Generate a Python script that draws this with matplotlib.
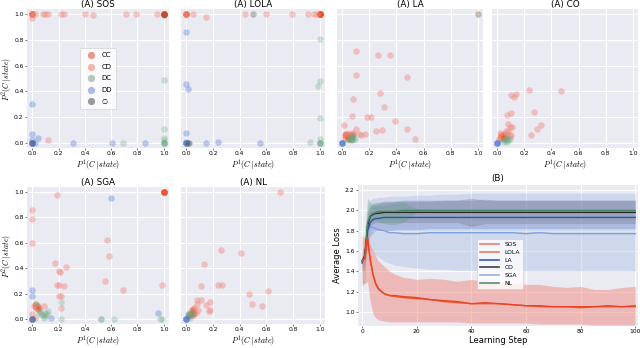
import matplotlib
matplotlib.use("Agg")
import matplotlib.pyplot as plt
from matplotlib.lines import Line2D
import numpy as np

W, H = 640, 348
BG = "#eaeaf2"

# ---------------- scatter data (P1, P2) per algorithm and state ----------------
sos_cc = [(1, 1)] * 8 + [(0, 1)] * 4
sos_cd = [(0.02, 1), (0.08, 1), (0.1, 1), (0.12, 1), (0.22, 1), (0.24, 1), (0.4, 1), (0.46, 0.99),
          (0.71, 1), (0.79, 1), (0.95, 1), (0, 0.97), (0.12, 0.02), (0, 1)]
sos_dc = [(1, 0.49), (1, 0.11), (1, 0.04), (1, 0.02), (1, 0), (1, 0), (1, 0), (1, 0), (0.69, 0)]
sos_dd = [(0, 0.3), (0, 0.07), (0.04, 0.04), (0, 0), (0, 0), (0, 0), (0, 0), (0.02, 0), (0, 0.02),
          (0.31, 0), (0.61, 0), (0.86, 0)]
sos_no = [(1, 0.99), (0, 0)]

lola_cc = [(1, 1)] * 8 + [(0, 1)] * 4
lola_cd = [(0, 1), (0.05, 1), (0.15, 0.98), (0.44, 1), (0.6, 1), (0.79, 1), (0.91, 1), (0.96, 1), (0.98, 1)]
lola_dc = [(1, 0.81), (1, 0.48), (0.99, 0.44), (1, 0.19), (1, 0.03), (0.93, 0.01), (1, 0), (1, 0),
           (1, 0), (1, 0)]
lola_dd = [(0, 0.86), (0, 0.46), (0.01, 0.42), (0, 0.08), (0, 0.01), (0, 0), (0, 0), (0, 0), (0, 0),
           (0.15, 0), (0.24, 0.01), (0.55, 0)]
lola_no = [(0.5, 1), (0.02, 0), (0.01, 0)]

la_cc = [(0.03, 0.06), (0.05, 0.07), (0.06, 0.05), (0.02, 0.04), (0.04, 0.03), (0.07, 0.06),
         (0.08, 0.07), (0.05, 0.04), (0.03, 0.07), (0.06, 0.03), (0.02, 0.06), (0.04, 0.05)]
la_cd = [(1, 1), (0.1, 0.71), (0.26, 0.68), (0.35, 0.68), (0.1, 0.53), (0.48, 0.51), (0.28, 0.39),
         (0.08, 0.34), (0.31, 0.28), (0.07, 0.21), (0.18, 0.2), (0.21, 0.2), (0.39, 0.17),
         (0.48, 0.11), (0.1, 0.11), (0.29, 0.1), (0.25, 0.09), (0.17, 0.07), (0.14, 0.06),
         (0.54, 0.03), (0.01, 0.14), (0.02, 0.07), (0.05, 0.07), (0.12, 0.07), (0.08, 0.08)]
la_dc = [(1, 1), (0.07, 0.04), (0.08, 0.03), (0.06, 0.02), (0.07, 0.05), (0.05, 0.03), (0.08, 0.05),
         (0.06, 0.04), (0.09, 0.03), (0.07, 0.02), (0.04, 0.02)]
la_dd = [(0, 0)] * 4
la_no = []

co_cc = [(0.04, 0.06), (0.03, 0.05), (0.05, 0.07), (0.04, 0.04), (0.06, 0.05), (0.02, 0.04),
         (0.05, 0.03), (0.03, 0.06)]
co_cd = [(0.23, 0.41), (0.47, 0.4), (0.1, 0.37), (0.12, 0.36), (0.14, 0.38), (0.07, 0.22),
         (0.1, 0.23), (0.27, 0.24), (0.08, 0.15), (0.09, 0.12), (0.11, 0.12), (0.32, 0.14),
         (0.29, 0.11), (0.25, 0.06), (0.08, 0.09), (0.1, 0.06), (0.02, 0.08), (0.06, 0.09),
         (0.07, 0.07), (0.09, 0.05), (0.01, 0.03)]
co_dc = [(0.06, 0.02), (0.07, 0.03), (0.05, 0.01), (0.08, 0.02), (0.06, 0.04), (0.09, 0.03),
         (0.07, 0.01), (0.04, 0.02)]
co_dd = [(0, 0)] * 4
co_no = []

sga_cc = [(1, 1)] * 6 + [(0.03, 0.09), (0.04, 0.1), (0.02, 0.1), (0.04, 0.08), (0.03, 0.11),
                        (0.05, 0.09)]
sga_cd = [(0.19, 0.98), (0, 0.86), (0, 0.79), (0, 0.6), (0.57, 0.62), (0.58, 0.5), (0.17, 0.44),
          (0.26, 0.41), (0.2, 0.38), (0.21, 0.37), (0.55, 0.3), (0.2, 0.27), (0.19, 0.27),
          (0.99, 0.27), (0.24, 0.26), (0.69, 0.23), (0.2, 0.18), (0.22, 0.18), (0.22, 0.09),
          (0.09, 0.1), (0.02, 0.12), (0, 0.04), (0.02, 0.01), (0.01, 0.1)]
sga_dc = [(0.22, 0.13), (0.1, 0.05), (0.08, 0.03), (0.05, 0.05), (0.1, 0.02), (0.12, 0.06),
          (0.07, 0.04), (0.09, 0.01), (0.06, 0.06), (0.11, 0.04), (0.22, 0), (0.52, 0),
          (0.52, 0), (0.62, 0), (0.97, 0), (0.99, 0), (0.03, 0.12)]
sga_dd = [(0.6, 0.95), (0, 0.23), (0, 0.18), (0.14, 0.01), (0.96, 0.05), (0, 0), (0, 0), (0, 0)]
sga_no = [(0, 0)]

nl_cc = [(0.04, 0.05), (0.05, 0.06), (0.03, 0.04), (0.05, 0.03), (0.04, 0.07), (0.06, 0.05),
         (0.03, 0.02), (0.02, 0.03), (0.05, 0.08)]
nl_cd = [(0.7, 1), (0.26, 0.54), (0.41, 0.52), (0.13, 0.43), (0.11, 0.26), (0.24, 0.27),
         (0.27, 0.27), (0.47, 0.2), (0.61, 0.22), (0.49, 0.12), (0.57, 0.1), (0.08, 0.15),
         (0.11, 0.15), (0.15, 0.11), (0.18, 0.13), (0.18, 0.07), (0.17, 0.06), (0.08, 0.12),
         (0.09, 0.07), (0.06, 0.09), (0.07, 0.05)]
nl_dc = [(0.02, 0.03), (0.03, 0.04), (0.01, 0.02), (0.04, 0.05), (0.02, 0.05), (0.03, 0.01),
         (0.05, 0.04), (0.01, 0.04)]
nl_dd = [(0, 0)] * 4
nl_no = []

panel_titles = ["(A) SOS", "(A) LOLA", "(A) LA", "(A) CO", "(A) SGA", "(A) NL"]
panel_data = [
    (sos_cc, sos_cd, sos_dc, sos_dd, sos_no),
    (lola_cc, lola_cd, lola_dc, lola_dd, lola_no),
    (la_cc, la_cd, la_dc, la_dd, la_no),
    (co_cc, co_cd, co_dc, co_dd, co_no),
    (sga_cc, sga_cd, sga_dc, sga_dd, sga_no),
    (nl_cc, nl_cd, nl_dc, nl_dd, nl_no),
]
state_labels = ["CC", "CD", "DC", "DD", "\u2205"]
state_colors = ["#ee4a22", "#f08a80", "#6aa882", "#4a78d0", "#555555"]
state_alpha = [0.35, 0.45, 0.3, 0.35, 0.35]
legend_colors = ["#e89890", "#f2b4ac", "#b4c8bc", "#a8bce6", "#9a9a9a"]

# ---------------- learning curves ----------------
steps = [0, 1, 2, 3, 4, 5, 6, 8, 10, 12, 15, 20, 25, 30, 35, 40, 45, 50, 55, 60, 65, 70, 75, 80,
         85, 90, 95, 100]
sos_mean = [1.50, 1.52, 1.72, 1.50, 1.36, 1.27, 1.22, 1.18, 1.16, 1.15, 1.14, 1.13, 1.12, 1.10,
            1.09, 1.08, 1.08, 1.08, 1.07, 1.06, 1.05, 1.05, 1.05, 1.04, 1.05, 1.05, 1.05, 1.05]
lola_mean = [1.51, 1.53, 1.73, 1.52, 1.37, 1.28, 1.23, 1.18, 1.16, 1.16, 1.15, 1.14, 1.12, 1.11,
             1.10, 1.08, 1.09, 1.08, 1.07, 1.06, 1.06, 1.05, 1.05, 1.05, 1.05, 1.06, 1.05, 1.06]
sos_hi = [1.75, 1.72, 1.74, 1.66, 1.60, 1.55, 1.50, 1.45, 1.40, 1.37, 1.34, 1.32, 1.33, 1.32,
          1.30, 1.32, 1.30, 1.28, 1.28, 1.27, 1.27, 1.25, 1.24, 1.25, 1.22, 1.22, 1.24, 1.25]
sos_lo = [1.28, 1.28, 1.30, 1.10, 0.98, 0.94, 0.92, 0.91, 0.90, 0.90, 0.90, 0.90, 0.90, 0.90,
          0.90, 0.89, 0.89, 0.89, 0.89, 0.89, 0.88, 0.88, 0.88, 0.88, 0.87, 0.87, 0.87, 0.87]
la_mean = [1.48, 1.55, 1.80, 1.88, 1.91, 1.92, 1.92, 1.93, 1.93, 1.93, 1.93, 1.93, 1.93, 1.93,
           1.93, 1.93, 1.93, 1.93, 1.93, 1.93, 1.93, 1.93, 1.93, 1.93, 1.93, 1.93, 1.93, 1.93]
la_hi = [1.55, 1.65, 1.95, 2.02, 2.05, 2.06, 2.07, 2.08, 2.08, 2.09, 2.10, 2.10, 2.10, 2.10,
         2.10, 2.10, 2.11, 2.10, 2.10, 2.10, 2.10, 2.10, 2.10, 2.10, 2.10, 2.10, 2.10, 2.10]
la_lo = [1.40, 1.45, 1.65, 1.75, 1.78, 1.80, 1.80, 1.80, 1.80, 1.81, 1.81, 1.81, 1.82, 1.82,
         1.82, 1.82, 1.82, 1.82, 1.82, 1.82, 1.82, 1.82, 1.82, 1.82, 1.82, 1.82, 1.82, 1.82]
co_mean = [1.50, 1.55, 1.85, 1.94, 1.96, 1.97, 1.97, 1.98, 1.98, 1.98, 1.98, 1.98, 1.98, 1.98,
           1.98, 1.98, 1.98, 1.98, 1.98, 1.98, 1.98, 1.98, 1.98, 1.98, 1.98, 1.98, 1.98, 1.98]
co_hi = [1.55, 1.70, 2.00, 2.05, 2.07, 2.08, 2.08, 2.09, 2.09, 2.09, 2.09, 2.09, 2.09, 2.10,
         2.10, 2.12, 2.10, 2.10, 2.10, 2.10, 2.10, 2.10, 2.10, 2.10, 2.10, 2.10, 2.10, 2.10]
co_lo = [1.42, 1.40, 1.70, 1.85, 1.87, 1.88, 1.88, 1.88, 1.88, 1.88, 1.88, 1.88, 1.88, 1.88,
         1.88, 1.84, 1.87, 1.87, 1.87, 1.87, 1.87, 1.87, 1.87, 1.87, 1.87, 1.87, 1.87, 1.87]
sga_mean = [1.50, 1.55, 1.83, 1.84, 1.83, 1.82, 1.81, 1.80, 1.78, 1.78, 1.77, 1.77, 1.78, 1.78,
            1.78, 1.78, 1.78, 1.78, 1.78, 1.77, 1.78, 1.77, 1.77, 1.77, 1.77, 1.77, 1.77, 1.77]
sga_hi = [1.55, 1.65, 2.05, 2.10, 2.12, 2.12, 2.13, 2.13, 2.14, 2.14, 2.14, 2.15, 2.15, 2.16,
          2.16, 2.17, 2.17, 2.17, 2.17, 2.17, 2.17, 2.17, 2.17, 2.17, 2.17, 2.17, 2.17, 2.17]
sga_lo = [1.45, 1.45, 1.62, 1.60, 1.58, 1.56, 1.54, 1.50, 1.48, 1.46, 1.45, 1.43, 1.42, 1.42,
          1.41, 1.41, 1.40, 1.40, 1.40, 1.40, 1.40, 1.40, 1.40, 1.40, 1.40, 1.40, 1.40, 1.40]
nl_mean = [1.50, 1.52, 1.88, 1.95, 1.97, 1.98, 1.99, 1.99, 1.99, 1.99, 2.00, 2.00, 2.00, 2.00,
           2.00, 2.00, 2.00, 2.00, 2.00, 2.00, 2.00, 2.00, 2.00, 2.00, 2.00, 2.00, 2.00, 2.00]
nl_hi = [1.55, 1.80, 2.12, 2.08, 2.06, 2.05, 2.05, 2.05, 2.06, 2.07, 2.08, 2.02, 2.01, 2.01,
         2.01, 2.01, 2.01, 2.01, 2.01, 2.01, 2.01, 2.01, 2.01, 2.01, 2.01, 2.01, 2.01, 2.01]
nl_lo = [1.25, 1.28, 1.78, 1.88, 1.90, 1.90, 1.88, 1.87, 1.86, 1.86, 1.88, 1.98, 1.99, 1.99,
         1.99, 1.99, 1.99, 1.99, 1.99, 1.99, 1.99, 1.99, 1.99, 1.99, 1.99, 1.99, 1.99, 1.99]

curve_names = ["SOS", "LOLA", "LA", "CO", "SGA", "NL"]
curve_means = [sos_mean, lola_mean, la_mean, co_mean, sga_mean, nl_mean]
curve_bands = [(sos_lo, sos_hi), (sos_lo, sos_hi), (la_lo, la_hi), (co_lo, co_hi),
               (sga_lo, sga_hi), (nl_lo, nl_hi)]
curve_colors = ["#ee5a2a", "#e8442a", "#2a52a8", "#2a2a2a", "#7ca2dc", "#4a8a68"]
legend_line_colors = ["#ec8070", "#ea7a5a", "#3a5ab0", "#404040", "#9ab0e0", "#5a8a78"]
band_colors = ["#f08a80", "#f4a8a0", "#5a78c0", "#707080", "#a8bce4", "#5aa078"]
band_alpha = [0.45, 0.2, 0.3, 0.3, 0.4, 0.3]

# ---------------- figure ----------------
plt.rcParams["font.family"] = ["DejaVu Sans"]
plt.rcParams["mathtext.fontset"] = "cm"
fig = plt.figure(figsize=(W / 100, H / 100), dpi=100)

TICK_FS = 4.3
TITLE_FS = 6.3
LABEL_FS = 6.0
MATH_FS = 5.7


def px_axes(l, t, r, b):
    return fig.add_axes([l / W, 1 - b / H, (r - l) / W, (b - t) / H])


def style(ax):
    ax.set_facecolor(BG)
    ax.grid(True, color="white", linewidth=0.8)
    ax.set_axisbelow(True)
    for s in ax.spines.values():
        s.set_visible(False)
    ax.tick_params(length=1.5, width=0.5, color="#444444", labelsize=TICK_FS, pad=1.0)


boxes = [(27, 9, 169, 148), (181, 9, 325, 148), (337, 9, 483, 148), (492, 9, 638, 148),
         (27, 187, 169, 324), (181, 187, 325, 324)]
ticks = [0, 0.2, 0.4, 0.6, 0.8, 1.0]
for i, (box, title, data) in enumerate(zip(boxes, panel_titles, panel_data)):
    ax = px_axes(*box)
    style(ax)
    for pts, lab, c, a in zip(data, state_labels, state_colors, state_alpha):
        if len(pts):
            arr = np.array(pts, dtype=float)
            ax.scatter(arr[:, 0], arr[:, 1], s=22, color=c, alpha=a, linewidths=0)
    ax.set_xlim(-0.04, 1.04)
    ax.set_ylim(-0.04, 1.04)
    ax.set_xticks(ticks)
    ax.set_yticks(ticks)
    ax.set_xticklabels([f"{t:.1f}" for t in ticks])
    if i in (0, 4):
        ax.set_yticklabels([f"{t:.1f}" for t in ticks])
        ax.set_ylabel(r"$P^2(C\,|\,state)$", fontsize=MATH_FS, labelpad=0.3)
    else:
        ax.set_yticklabels([])
        ax.tick_params(axis="y", length=0)
    ax.set_xlabel(r"$P^1(C\,|\,state)$", fontsize=MATH_FS, labelpad=0.3)
    ax.set_title(title, fontsize=TITLE_FS, pad=1.5)
    if i == 0:
        handles = [Line2D([], [], marker="o", linestyle="", markersize=4.2, color=c, label=l)
                   for l, c in zip(state_labels, legend_colors)]
        leg = ax.legend(handles=handles, loc="center", fontsize=5, frameon=True,
                        handletextpad=0.6, borderpad=0.6, labelspacing=0.8,
                        bbox_to_anchor=(0.5, 0.5))
        leg.get_frame().set_facecolor("white")
        leg.get_frame().set_edgecolor("#cccccc")
        leg.get_frame().set_linewidth(0.5)

axb = px_axes(358, 185, 638, 326)
style(axb)
x = np.array(steps, dtype=float)
order = [4, 2, 3, 5, 0, 1]
for j in order:
    lo, hi = curve_bands[j]
    axb.fill_between(x, lo, hi, color=band_colors[j], alpha=band_alpha[j], linewidth=0)
for j in [4, 2, 3, 5, 0, 1]:
    axb.plot(x, curve_means[j], color=curve_colors[j], linewidth=1.0)
handles = [Line2D([], [], color=legend_line_colors[j], linewidth=1.2, label=curve_names[j])
           for j in range(6)]
leg = axb.legend(handles=handles, loc="center", bbox_to_anchor=(0.507, 0.44), fontsize=4.3,
                 frameon=True, handlelength=3.2, labelspacing=0.45, borderpad=0.5)
leg.get_frame().set_facecolor("white")
leg.get_frame().set_edgecolor("#cccccc")
leg.get_frame().set_linewidth(0.5)
axb.set_xlim(-1.5, 101)
axb.set_ylim(0.86, 2.25)
axb.set_xticks([0, 20, 40, 60, 80, 100])
axb.set_yticks([1.0, 1.2, 1.4, 1.6, 1.8, 2.0, 2.2])
axb.set_yticklabels([f"{t:.1f}" for t in [1.0, 1.2, 1.4, 1.6, 1.8, 2.0, 2.2]])
axb.set_xlabel("Learning Step", fontsize=LABEL_FS, labelpad=1)
axb.set_ylabel("Average Loss", fontsize=LABEL_FS, labelpad=2)
axb.set_title("(B)", fontsize=TITLE_FS, pad=3)

fig.savefig("out.png", dpi=100, facecolor="white")
